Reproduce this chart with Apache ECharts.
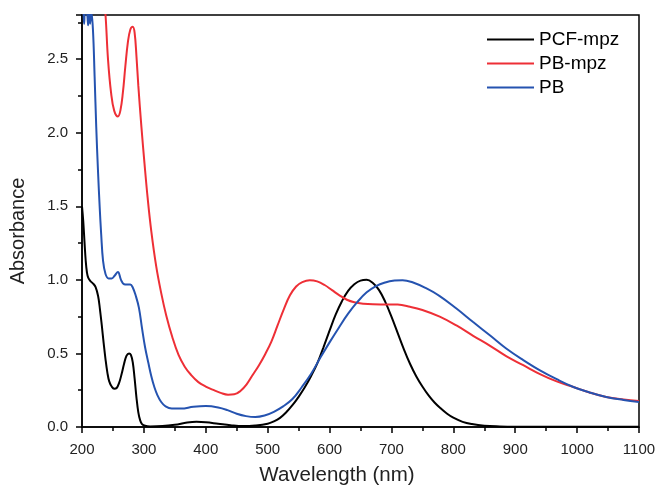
<!DOCTYPE html>
<html>
<head>
<meta charset="utf-8">
<script src="https://cdn.jsdelivr.net/npm/echarts@6/dist/echarts.min.js"></script>
<style>html,body{margin:0;padding:0;background:#fff}#c{width:659px;height:485px}</style>
</head>
<body>
<div id="c"></div>
<script>
var xTicks = [200, 300, 400, 500, 600, 700, 800, 900, 1000, 1100];
var yTicks = [0.0, 0.5, 1.0, 1.5, 2.0, 2.5];

var pcfWl  = [200,202,204,206,208,210,214,218,222,226,229,232,235,238,241,244,248,252,256,260,264,268,272,276,279,282,285,288,291,294,297,302,310,330,350,370,385,400,420,440,460,480,500,510,520,530,540,550,560,570,580,590,600,610,620,630,640,650,660,670,680,690,700,710,720,730,740,750,760,770,780,790,800,815,830,850,875,900,1000,1100];
var pcfAbs = [1.50,1.40,1.26,1.13,1.05,1.015,0.99,0.975,0.95,0.89,0.80,0.69,0.57,0.46,0.37,0.31,0.275,0.26,0.265,0.30,0.36,0.43,0.485,0.50,0.49,0.44,0.33,0.20,0.10,0.045,0.02,0.008,0.004,0.006,0.015,0.03,0.035,0.032,0.022,0.012,0.006,0.01,0.022,0.038,0.062,0.10,0.148,0.205,0.27,0.345,0.43,0.54,0.655,0.765,0.855,0.925,0.97,0.995,1.0,0.978,0.93,0.85,0.75,0.64,0.53,0.43,0.345,0.275,0.215,0.165,0.125,0.09,0.063,0.035,0.02,0.009,0.004,0.002,0.001,0.002];

var pbmWl  = [232,238,242,247,252,258,262,266,270,274,278,282,285,288,291,296,301,306,312,320,328,336,346,356,366,376,388,400,412,424,436,446,456,466,476,486,496,506,516,526,536,546,556,568,580,592,604,616,628,640,655,670,690,710,730,750,778,805,832,860,886,913,940,967,994,1020,1047,1075,1100];
var pbmAbs = [3.1,2.8,2.50,2.27,2.15,2.11,2.15,2.27,2.45,2.61,2.70,2.72,2.68,2.52,2.32,2.04,1.79,1.56,1.33,1.09,0.91,0.76,0.61,0.49,0.41,0.355,0.305,0.275,0.252,0.232,0.22,0.222,0.245,0.29,0.355,0.42,0.495,0.58,0.69,0.80,0.895,0.955,0.985,0.998,0.99,0.965,0.93,0.895,0.865,0.848,0.838,0.834,0.833,0.832,0.817,0.795,0.75,0.69,0.62,0.55,0.48,0.42,0.36,0.31,0.272,0.235,0.204,0.187,0.177];

var pbWl  = [200,202,203.5,205,208,210,211.5,213,215,217.7,220.4,223,225.8,228.5,231,234,238,243,248,253,258,263,268,273,278,282,287,292,297,302,307,312,317,322,328,335,345,360,380,400,420,435,450,465,480,495,510,525,540,555,570,585,600,615,630,645,660,675,690,705,718,735,755,778,805,832,860,886,913,940,967,994,1020,1047,1075,1100];
var pbAbs = [2.9,2.85,2.74,2.85,2.82,2.73,2.86,2.74,2.82,2.70,2.38,2.04,1.745,1.50,1.31,1.13,1.04,1.01,1.01,1.03,1.054,1.0,0.97,0.968,0.968,0.948,0.89,0.81,0.67,0.54,0.44,0.345,0.27,0.215,0.17,0.14,0.125,0.125,0.137,0.142,0.133,0.115,0.09,0.074,0.068,0.078,0.103,0.14,0.19,0.27,0.36,0.47,0.575,0.675,0.77,0.85,0.915,0.958,0.982,0.995,0.998,0.982,0.945,0.89,0.805,0.713,0.62,0.532,0.455,0.385,0.325,0.272,0.235,0.204,0.184,0.17];

function pairs(x, y) { return x.map(function (v, i) { return [v, y[i]]; }); }

var FONT = 'Liberation Sans, Arial, sans-serif';
var chart = echarts.init(document.getElementById('c'), null, {renderer: 'canvas'});
chart.setOption({
  animation: false,
  backgroundColor: '#fff',
  textStyle: {fontFamily: FONT},
  grid: {left: 82, right: 20, top: 15, bottom: 58, show: true, borderColor: '#000', borderWidth: 1.5, backgroundColor: 'transparent'},
  legend: {
    left: 482, top: 25, orient: 'vertical', itemGap: 5, itemWidth: 47, itemHeight: 2, icon: 'rect',
    textStyle: {fontSize: 19, color: '#000', fontFamily: FONT},
    data: ['PCF-mpz', 'PB-mpz', 'PB']
  },
  xAxis: {
    type: 'value', min: 200, max: 1100, interval: 100,
    axisLine: {show: true, lineStyle: {color: '#000', width: 1.5}},
    axisTick: {show: true, length: 6, lineStyle: {color: '#000', width: 1.5}},
    minorTick: {show: true, splitNumber: 2, length: 4, lineStyle: {color: '#000', width: 1.5}},
    splitLine: {show: false},
    axisLabel: {fontSize: 15, color: '#222', margin: 15, fontFamily: FONT,
      formatter: function (v) { return xTicks.indexOf(v) >= 0 ? String(v) : ''; }}
  },
  yAxis: {
    type: 'value', min: 0, max: 2.8, interval: 0.5,
    axisLine: {show: true, lineStyle: {color: '#000', width: 1.5}},
    axisTick: {show: true, length: 6, lineStyle: {color: '#000', width: 1.5}},
    minorTick: {show: true, splitNumber: 2, length: 4, lineStyle: {color: '#000', width: 1.5}},
    splitLine: {show: false},
    axisLabel: {fontSize: 15, color: '#222', margin: 14, fontFamily: FONT,
      formatter: function (v) { return yTicks.indexOf(v) >= 0 ? v.toFixed(1) : ''; }}
  },
  graphic: [
    {type: 'text', x: 18, y: 231, rotation: Math.PI / 2,
      style: {text: 'Absorbance', fontSize: 20, fill: '#222', fontFamily: FONT, textAlign: 'center', textVerticalAlign: 'middle'}},
    {type: 'text', x: 337, y: 475,
      style: {text: 'Wavelength (nm)', fontSize: 20.5, fill: '#222', fontFamily: FONT, textAlign: 'center', textVerticalAlign: 'middle'}}
  ],
  series: [
    {name: 'PCF-mpz', type: 'line', data: pairs(pcfWl, pcfAbs), smooth: 0.4, symbol: 'none', clip: true,
      lineStyle: {color: '#000', width: 2}, itemStyle: {color: '#000'}},
    {name: 'PB-mpz', type: 'line', data: pairs(pbmWl, pbmAbs), smooth: 0.4, symbol: 'none', clip: true,
      lineStyle: {color: '#ee2f36', width: 2}, itemStyle: {color: '#ee2f36'}},
    {name: 'PB', type: 'line', data: pairs(pbWl, pbAbs), smooth: 0.4, symbol: 'none', clip: true,
      lineStyle: {color: '#2553b0', width: 2}, itemStyle: {color: '#2553b0'}}
  ]
});
</script>
</body>
</html>
